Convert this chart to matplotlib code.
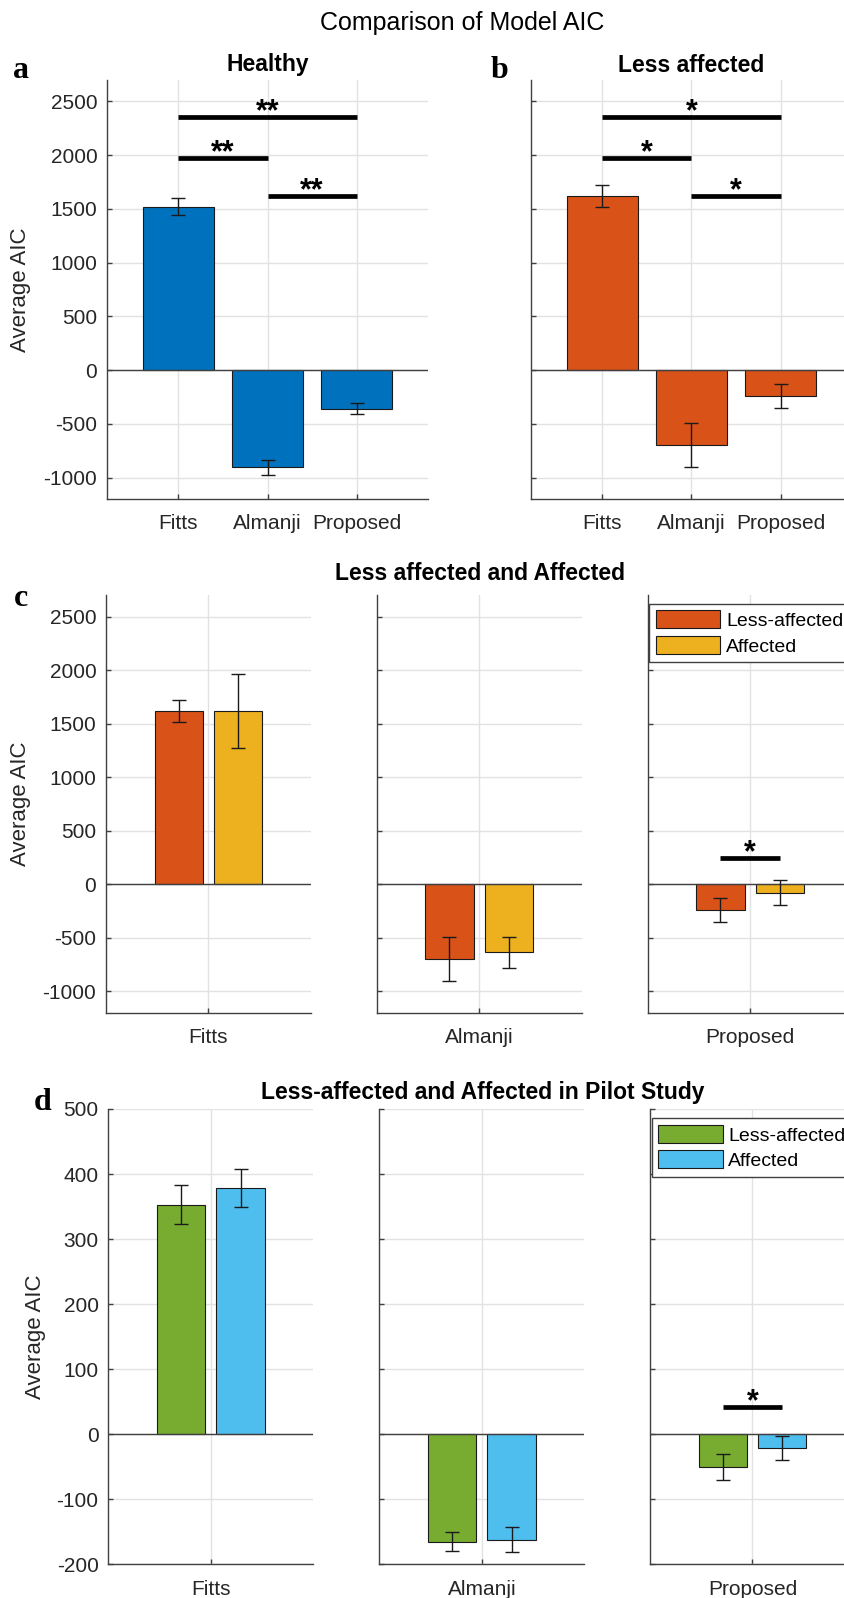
import matplotlib
matplotlib.use('Agg')
import matplotlib.pyplot as plt
import numpy as np

# values
models = ['Fitts', 'Almanji', 'Proposed']
healthy_mean = [1520, -905, -360]
healthy_err = [80, 67, 53]
less_mean = [1620, -700, -245]
less_err = [100, 205, 112]
affected_mean = [1620, -635, -78]
affected_err = [345, 144, 115]
pilot_less_mean = [353, -165, -50]
pilot_less_err = [30, 15, 20]
pilot_aff_mean = [378, -162, -21]
pilot_aff_err = [29, 19, 19]

# significance bars: (from model, to model, height, label)
sig_healthy = [(0, 2, 2354, '**'), (0, 1, 1975, '**'), (1, 2, 1618, '**')]
sig_less = [(0, 2, 2354, '*'), (0, 1, 1975, '*'), (1, 2, 1618, '*')]
sig_c = [(2, 244, '*')]
sig_d = [(2, 42, '*')]

BLUE = '#0072BD'
ORANGE = '#D95319'
YELLOW = '#EDB120'
GREEN = '#77AC30'
LBLUE = '#4DBEEE'
DARK = '#404040'

W, H = 845, 1598
plt.rcParams['font.family'] = ['Liberation Sans', 'DejaVu Sans']
plt.rcParams['axes.unicode_minus'] = False

fig = plt.figure(figsize=(W / 100, H / 100), dpi=100)


def box(x0, x1, y0, y1):
    # pixel box (y measured from top) -> figure rect
    return [x0 / W, 1 - y1 / H, (x1 - x0) / W, (y1 - y0) / H]


def style(ax, ylim, yticks, show_labels=True):
    ax.set_ylim(*ylim)
    ax.set_yticks(yticks)
    if not show_labels:
        ax.set_yticklabels([])
    for s in ['top', 'right']:
        ax.spines[s].set_visible(False)
    for s in ['left', 'bottom']:
        ax.spines[s].set_color(DARK)
        ax.spines[s].set_linewidth(1)
    ax.tick_params(direction='in', length=3.5, width=1, color=DARK,
                   labelsize=15, labelcolor='#262626', pad=7)
    ax.tick_params(axis='x', pad=11)
    ax.grid(True, color='#e2e2e2', lw=1)
    ax.set_axisbelow(True)
    ax.axhline(0, color=DARK, lw=1, zorder=3)


def sig_line(ax, x0, x1, y, txt):
    ax.plot([x0, x1], [y, y], color='black', lw=3.4, solid_capstyle='butt', zorder=4)
    ax.annotate(txt, xy=((x0 + x1) / 2, y), xytext=(0, -2.5), textcoords='offset points',
                ha='center', va='baseline', fontsize=22, fontweight='bold')


err_kw = dict(ecolor='#1a1a1a', elinewidth=1, capsize=4.7, capthick=1, zorder=5)

# ---- panels a and b ----
x = np.arange(1, 4)
top_axes = [
    (box(107, 428, 80, 499), healthy_mean, healthy_err, BLUE, sig_healthy, True),
    (box(531, 852, 80, 499), less_mean, less_err, ORANGE, sig_less, False),
]
for rect, mean, err, col, sigs, lab in top_axes:
    ax = fig.add_axes(rect)
    ax.bar(x, mean, 0.8, yerr=err, color=col, edgecolor='#1a1a1a', lw=0.8,
           error_kw=err_kw, zorder=2)
    style(ax, (-1200, 2700), np.arange(-1000, 2501, 500), lab)
    ax.set_xlim(0.2, 3.8)
    ax.set_xticks(x)
    ax.set_xticklabels(models)
    for i0, i1, y, t in sigs:
        sig_line(ax, x[i0], x[i1], y, t)

# ---- panels c and d ----
offset = 0.145
bw = 0.235
groups = [
    ([106, 376.7, 647.7], 595.3, 1012.6, less_mean, less_err, affected_mean, affected_err,
     ORANGE, YELLOW, (-1200, 2700), np.arange(-1000, 2501, 500), sig_c),
    ([108.3, 379.3, 650], 1109, 1564.3, pilot_less_mean, pilot_less_err, pilot_aff_mean,
     pilot_aff_err, GREEN, LBLUE, (-200, 500), np.arange(-200, 501, 100), sig_d),
]
for lefts, yt, yb, m1, e1, m2, e2, c1, c2, ylim, yticks, sigs in groups:
    for i, left in enumerate(lefts):
        ax = fig.add_axes(box(left, left + 205, yt, yb))
        ax.bar(1 - offset, m1[i], bw, yerr=e1[i], color=c1, edgecolor='#1a1a1a', lw=0.8,
               error_kw=err_kw, zorder=2, label='Less-affected')
        ax.bar(1 + offset, m2[i], bw, yerr=e2[i], color=c2, edgecolor='#1a1a1a', lw=0.8,
               error_kw=err_kw, zorder=2, label='Affected')
        style(ax, ylim, yticks, i == 0)
        ax.set_xlim(0.5, 1.5)
        ax.set_xticks([1])
        ax.set_xticklabels([models[i]])
        for k, y, t in sigs:
            if k == i:
                sig_line(ax, 1 - offset, 1 + offset, y, t)
        if i == 2:
            leg = ax.legend(loc='upper left', bbox_to_anchor=(0.008, 0.98), borderaxespad=0,
                            fontsize=14, handlelength=3.3, handleheight=1.05,
                            handletextpad=0.3, labelspacing=0.3, borderpad=0.35,
                            fancybox=False, framealpha=1, edgecolor=DARK)
            leg.get_frame().set_linewidth(1)


def px(xp, yp):
    return xp / W, 1 - yp / H


# titles and labels
fig.text(*px(462, 23), 'Comparison of Model AIC', ha='center', va='center', fontsize=18)
fig.text(*px(267.5, 65), 'Healthy', ha='center', va='center', fontsize=16.5, fontweight='bold')
fig.text(*px(691, 65), 'Less affected', ha='center', va='center', fontsize=16.5, fontweight='bold')
fig.text(*px(480, 574), 'Less affected and Affected', ha='center', va='center',
         fontsize=16.5, fontweight='bold')
fig.text(*px(482.5, 1092), 'Less-affected and Affected in Pilot Study', ha='center',
         va='center', fontsize=16.5, fontweight='bold')

for xp, yp in [(21, 290), (21, 804), (36, 1337)]:
    fig.text(*px(xp, yp), 'Average AIC', rotation=90, ha='center', va='center', fontsize=16,
             color='#262626')

for t, xp, yp in [('a', 21, 70), ('b', 500, 70), ('c', 21, 599), ('d', 43, 1103)]:
    fig.text(*px(xp, yp), t, ha='center', va='center', fontsize=23, fontweight='bold',
             family='Liberation Serif')

fig.savefig('out.png', dpi=100)
